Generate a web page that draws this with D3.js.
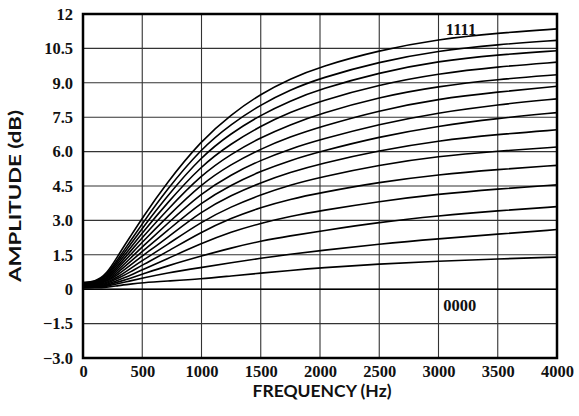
<!DOCTYPE html>
<html lang="en">
<head>
    <meta charset="UTF-8">
    <title>Amplitude vs Frequency</title>
    <script src="https://d3js.org/d3.v7.min.js"></script>
    <style>
        body {
            margin: 0;
            padding: 0;
            background-color: #fff;
        }
        svg {
            display: block;
        }
        .tick-label {
            font-family: "Liberation Serif", serif;
            font-weight: bold;
            font-size: 16.5px;
            fill: #111;
        }
        .axis-title {
            font-family: Lato, "Open Sans", sans-serif;
            font-weight: bold;
            font-size: 17px;
            fill: #111;
        }
    </style>
</head>
<body>

<div id="chart"></div>

<script>
    const freqs = [0, 100, 200, 300, 400, 500, 700, 1000, 1250, 1500, 1750, 2000, 2500, 3000, 3500, 4000];

    // one curve per 4-bit setting, amplitude in dB
    const names = ["0000", "0001", "0010", "0011", "0100", "0101", "0110", "0111",
                   "1000", "1001", "1010", "1011", "1100", "1101", "1110", "1111"];
    const c0000 = [0, 0, 0, 0, 0, 0, 0, 0, 0, 0, 0, 0, 0, 0, 0, 0];
    const c0001 = [0.05, 0.06, 0.08, 0.16, 0.22, 0.28, 0.35, 0.45, 0.58, 0.7, 0.82, 0.93, 1.1, 1.22, 1.32, 1.4];
    const c0010 = [0.07, 0.08, 0.12, 0.25, 0.36, 0.48, 0.7, 0.95, 1.15, 1.35, 1.53, 1.68, 1.97, 2.2, 2.4, 2.6];
    const c0011 = [0.09, 0.1, 0.16, 0.32, 0.48, 0.65, 1.0, 1.45, 1.8, 2.1, 2.33, 2.53, 2.92, 3.2, 3.42, 3.6];
    const c0100 = [0.11, 0.12, 0.2, 0.4, 0.6, 0.85, 1.3, 2.0, 2.5, 2.88, 3.18, 3.42, 3.83, 4.15, 4.37, 4.55];
    const c0101 = [0.13, 0.14, 0.24, 0.48, 0.75, 1.05, 1.6, 2.5, 3.1, 3.57, 3.93, 4.2, 4.67, 5.0, 5.22, 5.4];
    const c0110 = [0.15, 0.16, 0.28, 0.55, 0.9, 1.25, 1.9, 2.95, 3.6, 4.12, 4.55, 4.88, 5.42, 5.8, 6.02, 6.2];
    const c0111 = [0.16, 0.18, 0.32, 0.65, 1.05, 1.45, 2.2, 3.4, 4.1, 4.65, 5.1, 5.47, 6.05, 6.48, 6.75, 6.95];
    const c1000 = [0.18, 0.2, 0.35, 0.75, 1.2, 1.65, 2.5, 3.8, 4.55, 5.15, 5.62, 6.0, 6.65, 7.12, 7.45, 7.7];
    const c1001 = [0.2, 0.22, 0.38, 0.85, 1.35, 1.85, 2.8, 4.2, 5.0, 5.63, 6.12, 6.52, 7.2, 7.7, 8.05, 8.3];
    const c1010 = [0.21, 0.23, 0.42, 0.95, 1.5, 2.05, 3.1, 4.6, 5.45, 6.12, 6.65, 7.08, 7.8, 8.3, 8.6, 8.85];
    const c1011 = [0.23, 0.25, 0.45, 1.05, 1.65, 2.25, 3.4, 5.0, 5.9, 6.62, 7.18, 7.65, 8.38, 8.85, 9.15, 9.35];
    const c1100 = [0.25, 0.27, 0.5, 1.15, 1.8, 2.45, 3.7, 5.4, 6.35, 7.12, 7.72, 8.2, 8.92, 9.4, 9.7, 9.9];
    const c1101 = [0.26, 0.28, 0.55, 1.25, 1.95, 2.65, 4.0, 5.8, 6.8, 7.6, 8.22, 8.72, 9.45, 9.95, 10.22, 10.4];
    const c1110 = [0.28, 0.3, 0.6, 1.35, 2.1, 2.85, 4.3, 6.15, 7.2, 8.05, 8.7, 9.2, 9.92, 10.4, 10.67, 10.85];
    const c1111 = [0.3, 0.32, 0.65, 1.5, 2.3, 3.1, 4.6, 6.5, 7.62, 8.52, 9.18, 9.7, 10.42, 10.9, 11.17, 11.35];
    const curves = [c0000, c0001, c0010, c0011, c0100, c0101, c0110, c0111,
                    c1000, c1001, c1010, c1011, c1100, c1101, c1110, c1111];

    // axis ticks
    const xTicks = [0, 500, 1000, 1500, 2000, 2500, 3000, 3500, 4000];
    const yTicks = [-3, -1.5, 0, 1.5, 3, 4.5, 6, 7.5, 9, 10.5, 12];
    const yTickLabels = ["\u22123.0", "\u22121.5", "0", "1.5", "3.0", "4.5", "6.0", "7.5", "9.0", "10.5", "12"];

    const W = 579, H = 416;
    const svg = d3.select("#chart").append("svg")
        .attr("width", W)
        .attr("height", H);

    const pLeft = 83, pRight = 557, pTop = 14, pBottom = 358;

    const x = d3.scaleLinear().domain([0, 4000]).range([pLeft, pRight]);
    const y = d3.scaleLinear().domain([-3, 12]).range([pBottom, pTop]);

    // grid
    svg.append("g")
        .selectAll("line")
        .data(yTicks)
        .enter().append("line")
        .attr("x1", pLeft).attr("x2", pRight)
        .attr("y1", d => y(d)).attr("y2", d => y(d))
        .attr("stroke", "#333")
        .attr("stroke-width", 1.1);

    svg.append("g")
        .selectAll("line")
        .data(xTicks)
        .enter().append("line")
        .attr("x1", d => x(d)).attr("x2", d => x(d))
        .attr("y1", pTop).attr("y2", pBottom)
        .attr("stroke", "#333")
        .attr("stroke-width", 1.1);

    // curves
    const line = d3.line()
        .x((d, i) => x(freqs[i]))
        .y(d => y(d))
        .curve(d3.curveBasis);

    svg.append("g")
        .selectAll("path")
        .data(curves)
        .enter().append("path")
        .attr("d", line)
        .attr("fill", "none")
        .attr("stroke", "#000")
        .attr("stroke-width", 1.6);

    // frame
    svg.append("rect")
        .attr("x", pLeft).attr("y", pTop)
        .attr("width", pRight - pLeft).attr("height", pBottom - pTop)
        .attr("fill", "none")
        .attr("stroke", "#000")
        .attr("stroke-width", 2.5);

    // axes, labels only (grid and frame drawn above)
    const xAxis = svg.append("g")
        .attr("transform", `translate(0,${pBottom})`)
        .call(d3.axisBottom(x).tickValues(xTicks).tickSize(0).tickPadding(7).tickFormat(d3.format("d")));
    xAxis.select(".domain").remove();
    xAxis.selectAll("text").attr("class", "tick-label");
    xAxis.attr("font-family", null).attr("font-size", null);

    const yAxis = svg.append("g")
        .attr("transform", `translate(${pLeft},0)`)
        .call(d3.axisLeft(y).tickValues(yTicks).tickSize(0).tickPadding(10)
            .tickFormat((d, i) => yTickLabels[i]));
    yAxis.select(".domain").remove();
    yAxis.selectAll("text").attr("class", "tick-label");
    yAxis.attr("font-family", null).attr("font-size", null);

    // titles
    svg.append("text")
        .attr("class", "axis-title")
        .attr("x", 322)
        .attr("y", 397)
        .attr("text-anchor", "middle")
        .attr("textLength", 139)
        .attr("lengthAdjust", "spacingAndGlyphs")
        .text("FREQUENCY (Hz)");

    svg.append("text")
        .attr("class", "axis-title")
        .attr("transform", "translate(21,196) rotate(-90)")
        .attr("text-anchor", "middle")
        .attr("textLength", 172)
        .attr("lengthAdjust", "spacingAndGlyphs")
        .text("AMPLITUDE (dB)");

    // curve labels
    svg.append("text")
        .attr("class", "tick-label")
        .attr("x", x(3190)).attr("y", y(11.35) + 6)
        .attr("text-anchor", "middle")
        .text(names[15]);

    svg.append("text")
        .attr("class", "tick-label")
        .attr("x", x(3180)).attr("y", y(-0.95))
        .attr("text-anchor", "middle")
        .text(names[0]);
</script>

</body>
</html>
